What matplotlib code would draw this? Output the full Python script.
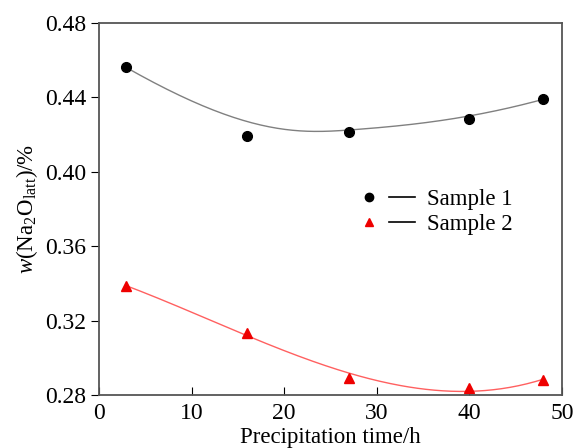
import numpy as np
import matplotlib.pyplot as plt
from matplotlib.lines import Line2D
from matplotlib.legend_handler import HandlerTuple

plt.rcParams['font.family'] = ['Liberation Serif']
plt.rcParams['mathtext.fontset'] = 'custom'
plt.rcParams['mathtext.rm'] = 'Liberation Serif'
plt.rcParams['mathtext.it'] = 'Liberation Serif:italic'

# Data
time_h = [2.9, 16.0, 27.0, 40.0, 48.0]
sample1 = [0.4562, 0.4192, 0.4216, 0.4282, 0.4390]
sample2 = [0.3385, 0.3135, 0.2893, 0.2839, 0.2878]
x_ticks = [0, 10, 20, 30, 40, 50]
y_ticks = [0.28, 0.32, 0.36, 0.40, 0.44, 0.48]


def bspline(px, py, k=3, n=200):
    # clamped B-spline using the data points as control points
    px, py = np.asarray(px), np.asarray(py)
    m = len(px)
    knots = np.concatenate([np.zeros(k), np.linspace(0, 1, m - k + 1), np.ones(k)])
    t = np.linspace(0, 1, n)
    t[-1] -= 1e-9
    B = np.array([(knots[i] <= t) & (t < knots[i + 1]) for i in range(len(knots) - 1)], float)
    for d in range(1, k + 1):
        nb = np.zeros((len(knots) - 1 - d, n))
        for i in range(len(knots) - 1 - d):
            a = knots[i + d] - knots[i]
            b = knots[i + d + 1] - knots[i + 1]
            if a > 0:
                nb[i] += (t - knots[i]) / a * B[i]
            if b > 0:
                nb[i] += (knots[i + d + 1] - t) / b * B[i + 1]
        B = nb
    return B.T @ px, B.T @ py


fig = plt.figure(figsize=(5.73, 4.48), dpi=100)
ax = fig.add_axes([99 / 573, 1 - 395 / 448, 463 / 573, 372 / 448])

x1, y1 = bspline(time_h, sample1)
x2 = np.linspace(time_h[0], time_h[-1], 200)
y2 = np.polyval(np.polyfit(time_h, sample2, 3), x2)
ax.plot(x1, y1, color='#808080', lw=1)
ax.plot(x2, y2, color='#ff6060', lw=1)

ax.plot(time_h, sample1, 'o', color='black', ms=7, ls='none')
ax.plot(time_h, sample2, '^', color='#ee0000', ms=7, ls='none')

ax.set_xlim(0, 50)
ax.set_ylim(0.28, 0.48)
ax.set_xticks(x_ticks)
ax.set_yticks(y_ticks)
ax.set_yticklabels(['%.2f' % v for v in y_ticks])
ax.tick_params(axis='x', direction='in', length=6, labelsize=17, pad=6, top=False)
ax.tick_params(axis='y', direction='out', length=6, labelsize=17, pad=3, right=False)
for s in ax.spines.values():
    s.set_color('#555555')
    s.set_linewidth(1.3)

ax.set_xlabel('Precipitation time/h', fontsize=16.5, labelpad=2)
ax.set_ylabel(r'$w$(Na$_2$O$_{\rm latt}$)/%', fontsize=16.5, labelpad=4)

h1 = (Line2D([], [], marker='o', color='black', ls='none', ms=6),
      Line2D([], [], color='black', lw=1.2))
h2 = (Line2D([], [], marker='^', color='#ee0000', ls='none', ms=6),
      Line2D([], [], color='black', lw=1.2))
ax.legend([h1, h2], ['Sample 1', 'Sample 2'],
          handler_map={tuple: HandlerTuple(ndivide=None, pad=0.3)},
          loc='upper left', bbox_to_anchor=(0.51, 0.61), frameon=False,
          fontsize=16.5, handlelength=2.6, handletextpad=0.5, labelspacing=0.2)

fig.savefig('out.png', dpi=100)
